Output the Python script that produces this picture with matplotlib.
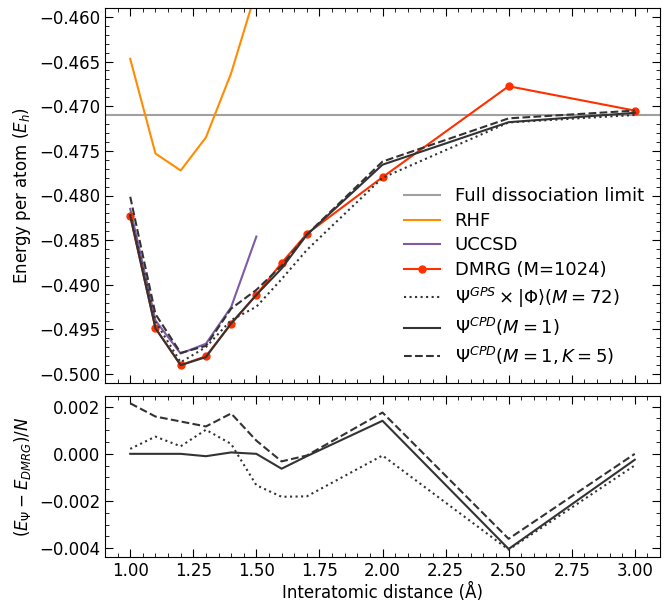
import matplotlib
matplotlib.use("Agg")
import matplotlib.pyplot as plt
from matplotlib.ticker import AutoMinorLocator, MultipleLocator
import numpy as np

plt.rcParams['font.size'] = 12

# interatomic distances (Angstrom)
dist = np.array([1.0, 1.1, 1.2, 1.3, 1.4, 1.5, 1.6, 1.7, 2.0, 2.5, 3.0])
dissociation_limit = -0.47097

rhf_dist = [1.0, 1.1, 1.2, 1.3, 1.4, 1.5]
rhf = [-0.4647, -0.4753, -0.4772, -0.4735, -0.4663, -0.4570]

uccsd_dist = [1.0, 1.1, 1.2, 1.3, 1.4, 1.5]
uccsd = [-0.4815, -0.4940, -0.4977, -0.4966, -0.4925, -0.4846]

dmrg = np.array([-0.48228, -0.49486, -0.49900, -0.49800, -0.49438, -0.49113,
                 -0.48755, -0.48430, -0.47795, -0.46776, -0.47049])
gps = np.array([-0.48207, -0.49413, -0.49868, -0.49698, -0.49396, -0.49246,
                -0.48937, -0.48610, -0.47802, -0.47182, -0.47098])
cpd = np.array([-0.48228, -0.49486, -0.49900, -0.49810, -0.49432, -0.49113,
                -0.48818, -0.48440, -0.47655, -0.47179, -0.47074])
cpd_k5 = np.array([-0.48014, -0.49328, -0.49763, -0.49684, -0.49267, -0.49057,
                   -0.48787, -0.48437, -0.47620, -0.47136, -0.47049])

dark = '#333333'

fig = plt.figure(figsize=(6.7, 6.01), dpi=100)
ax1 = fig.add_axes([105 / 670, 1 - 383 / 601, 555 / 670, 375 / 601])
ax2 = fig.add_axes([105 / 670, 1 - 557 / 601, 555 / 670, 161 / 601], sharex=ax1)

ax1.axhline(dissociation_limit, color='#a0a0a0', lw=1.5, label='Full dissociation limit')
ax1.plot(rhf_dist, rhf, color='darkorange', lw=1.5, label='RHF')
ax1.plot(uccsd_dist, uccsd, color='#7d5ba6', lw=1.5, label='UCCSD')
ax1.plot(dist, dmrg, color='#ff3000', marker='o', ms=5, lw=1.5, label='DMRG (M=1024)')
ax1.plot(dist, gps, color=dark, ls=':', lw=1.5, label=r'$\Psi^{GPS} \times |\Phi\rangle (M=72)$')
ax1.plot(dist, cpd, color=dark, ls='-', lw=1.5, label=r'$\Psi^{CPD}(M=1)$')
ax1.plot(dist, cpd_k5, color=dark, ls='--', lw=1.5, label=r'$\Psi^{CPD}(M=1, K=5)$')
ax1.set_ylim(-0.501, -0.459)
ax1.set_ylabel(r'Energy per atom ($E_h$)')
ax1.legend(loc='lower right', frameon=False, fontsize=13, labelspacing=0.36)
ax1.yaxis.set_major_locator(MultipleLocator(0.005))

ax2.plot(dist, gps - dmrg, color=dark, ls=':', lw=1.5)
ax2.plot(dist, cpd - dmrg, color=dark, ls='-', lw=1.5)
ax2.plot(dist, cpd_k5 - dmrg, color=dark, ls='--', lw=1.5)
ax2.set_ylabel(r'$(E_\Psi - E_{DMRG})/N$')
ax2.set_xlabel('Interatomic distance (Å)', labelpad=2)
ax2.xaxis.set_major_locator(MultipleLocator(0.25))
ax2.yaxis.set_major_locator(MultipleLocator(0.002))

for ax in (ax1, ax2):
    ax.xaxis.set_minor_locator(AutoMinorLocator())
    ax.yaxis.set_minor_locator(AutoMinorLocator())
    ax.tick_params(which='both', direction='in', top=True, right=True)
    ax.tick_params(which='major', length=6)
    ax.tick_params(which='minor', length=3)
ax1.tick_params(labelbottom=False)

fig.savefig('out.png', dpi=100)
